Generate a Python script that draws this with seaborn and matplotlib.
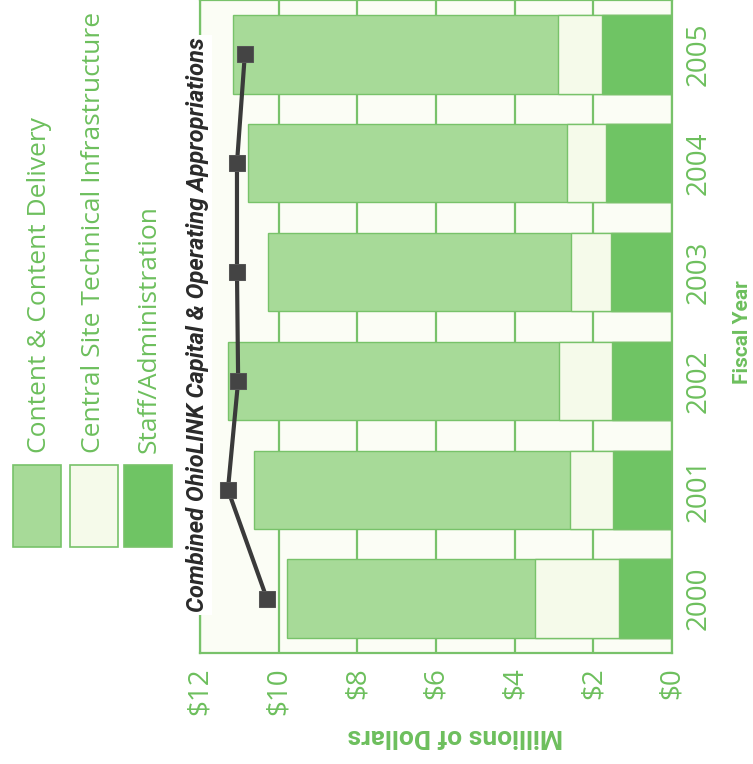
import numpy as np
import pandas as pd
import matplotlib
matplotlib.use('Agg')
import matplotlib.pyplot as plt
from matplotlib.patches import Rectangle
import seaborn as sns

# values, in millions of dollars
years = ['2000', '2001', '2002', '2003', '2004', '2005']
content = [6.31, 8.03, 8.42, 7.70, 8.11, 8.26]
central = [2.14, 1.09, 1.35, 1.02, 0.99, 1.12]
staff = [1.35, 1.50, 1.53, 1.55, 1.68, 1.78]
appropriations = [10.30, 11.29, 11.03, 11.06, 11.06, 10.86]

series_names = ['Content & Content Delivery',
                'Central Site Technical Infrastructure',
                'Staff/Administration']
line_label = 'Combined OhioLINK Capital & Operating Appropriations'
dollar_ticks = [0, 2, 4, 6, 8, 10, 12]

colors = ['#a7da98', '#f5faea', '#6fc464']
green = '#6dbf5d'
grid_green = '#78c26a'

sns.set_theme(style='white')
plt.rcParams['font.family'] = ['Open Sans', 'DejaVu Sans']
narrow = ['Roboto', 'DejaVu Sans']

df = pd.DataFrame({'year': years, 'content': content, 'central': central, 'staff': staff})
df['total'] = df['content'] + df['central'] + df['staff']
df['upper'] = df['central'] + df['staff']
order = years[::-1]

fig = plt.figure(figsize=(7.53, 7.64), dpi=100)
ax = fig.add_axes([200 / 753, 1 - 653 / 764, 472 / 753, 653 / 764])
ax.set_facecolor('#fbfdf5')

# stacked bars drawn as overlapping cumulative bars
for col, c in zip(['total', 'upper', 'staff'], colors):
    sns.barplot(data=df, x=col, y='year', order=order, color=c, width=0.72,
                edgecolor=grid_green, linewidth=1, saturation=1, ax=ax, zorder=2)

pos = [order.index(y) for y in years]
sns.lineplot(x=appropriations, y=pos, sort=False, estimator=None, ax=ax,
             color='#3a3a3a', lw=3, marker='s', markersize=12,
             markeredgecolor='#555555', markerfacecolor='#444444', zorder=5, legend=False)

ax.set_xlim(12, 0)
ax.set_ylim(5.5, -0.5)
ax.set_xticks(dollar_ticks)
ax.set_xticklabels([f'${t}' for t in dollar_ticks], rotation=90, color=green, fontsize=20)
ax.yaxis.tick_right()
ax.set_yticks(range(len(order)))
ax.set_yticklabels(order, rotation=90, color=green, fontsize=20, va='center')
ax.tick_params(axis='x', length=0, pad=10)
ax.tick_params(axis='y', length=0, pad=9)
ax.set_xlabel('')
ax.set_ylabel('')
ax.xaxis.grid(True, color=grid_green, lw=1.6)
ax.set_axisbelow(True)
for s in ax.spines.values():
    s.set_color(grid_green)
    s.set_linewidth(1.6)

fig.text(455 / 753, 1 - 736 / 764, 'Millions of Dollars', rotation=180, ha='center', va='center',
         color=green, fontsize=19, fontweight='bold', family=narrow)
fig.text(742 / 753, 1 - 332 / 764, 'Fiscal Year', rotation=90, ha='center', va='center',
         color=green, fontsize=15, fontweight='bold', family=narrow)
fig.text(198 / 753, 1 - 325 / 764, line_label, rotation=90, ha='center', va='center',
         color='#2a2a2a', fontsize=17, fontweight='bold', fontstyle='italic', family=narrow,
         bbox=dict(facecolor='white', edgecolor='none', pad=2))

# legend swatches with rotated labels
swatch_x = [13, 70, 124]
text_x = [40, 94, 149]
for sx, tx, c, name in zip(swatch_x, text_x, colors, series_names):
    fig.patches.append(Rectangle((sx / 753, 1 - 547 / 764), 48 / 753, 82 / 764,
                                 transform=fig.transFigure, facecolor=c,
                                 edgecolor=grid_green, lw=1.2))
    fig.text(tx / 753, 1 - 453 / 764, name, rotation=90, ha='center', va='bottom',
             color=green, fontsize=19)

fig.savefig('out.png', dpi=100, facecolor='white')
